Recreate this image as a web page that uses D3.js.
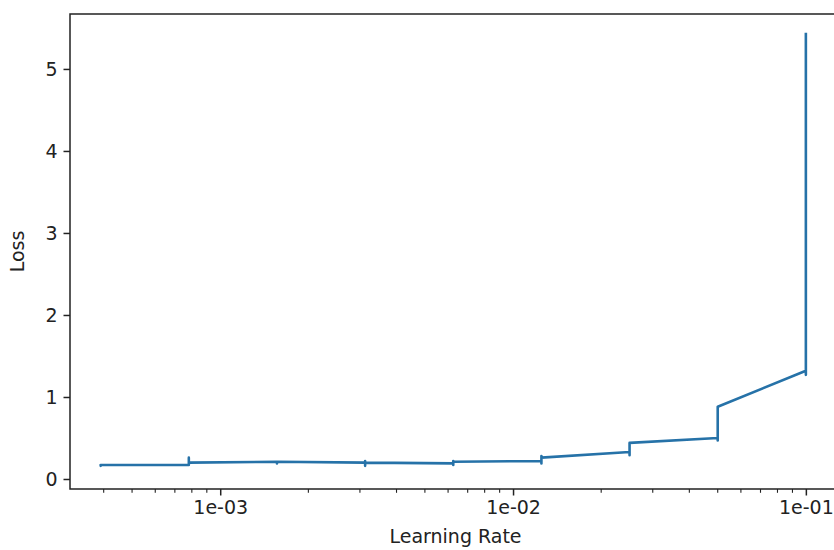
<!DOCTYPE html>
<html>
<head>
<meta charset="utf-8">
<script src="https://cdn.jsdelivr.net/npm/d3@7"></script>
<style>
  html, body { margin: 0; padding: 0; background: #fff; overflow: hidden; }
  svg { display: block; }
  text { font-family: "DejaVu Sans", sans-serif; fill: #222; }
</style>
</head>
<body>
<div id="chart_container"></div>
<script>
// learning rate used at each recorded iteration (stepwise schedule)
const lrSeries = [
  0.000390625, 0.000390625, 0.000390625,
  0.00078125, 0.00078125, 0.00078125, 0.00078125,
  0.0015625, 0.0015625, 0.0015625,
  0.003125, 0.003125, 0.003125, 0.003125,
  0.00625, 0.00625, 0.00625, 0.00625,
  0.0125, 0.0125, 0.0125, 0.0125,
  0.025, 0.025, 0.025, 0.025,
  0.05, 0.05, 0.05, 0.05,
  0.1, 0.1, 0.1, 0.1, 0.1, 0.1
];
// loss recorded at each iteration
const lossSeries = [
  0.18, 0.16, 0.17,
  0.17, 0.26, 0.19, 0.2,
  0.21, 0.19, 0.21,
  0.2, 0.16, 0.22, 0.2,
  0.19, 0.17, 0.22, 0.21,
  0.22, 0.19, 0.28, 0.26,
  0.33, 0.29, 0.44, 0.44,
  0.5, 0.47, 0.64, 0.88,
  1.32, 1.27, 1.7, 1.92, 2.53, 5.44
];
const xTickValues = [1e-3, 1e-2, 1e-1];
const xTickLabels = ["1e-03", "1e-02", "1e-01"];
const yTickValues = [0, 1, 2, 3, 4, 5];

let width = 834;
let height = 550;
let margin = { top: 14, right: -7, bottom: 61, left: 70 };

let svg = d3
  .select("#chart_container")
  .append("svg")
  .attr("width", width)
  .attr("height", height);

svg.append("rect").attr("width", width).attr("height", height).attr("fill", "#fff");

let x = d3
  .scaleLog()
  .domain([Math.pow(10, -3.513), Math.pow(10, -0.88)])
  .range([margin.left, width - margin.right]);

let y = d3
  .scaleLinear()
  .domain([-0.122, 5.67])
  .range([height - margin.bottom, margin.top]);

let points = lrSeries.map((lr, i) => [lr, lossSeries[i]]);

// loss curve
svg
  .append("path")
  .datum(points)
  .attr("fill", "none")
  .attr("stroke", "#2672a8")
  .attr("stroke-width", 2.6)
  .attr("stroke-linejoin", "round")
  .attr("d", d3.line().x((d) => x(d[0])).y((d) => y(d[1])));

// minor ticks on the log axis
let minorTicks = [];
for (let e = -4; e <= -1; e++) {
  for (let m = 2; m <= 9; m++) {
    let v = m * Math.pow(10, e);
    if (v > x.domain()[0] && v < x.domain()[1]) minorTicks.push(v);
  }
}

let xAxis = svg
  .append("g")
  .attr("transform", `translate(0,${height - margin.bottom})`)
  .call(
    d3.axisBottom(x)
      .tickValues(xTickValues)
      .tickFormat((d, i) => xTickLabels[i])
      .tickSizeInner(6.5)
      .tickSizeOuter(0)
      .tickPadding(5)
  );
xAxis.select(".domain").remove();
xAxis.selectAll("text").attr("font-size", "19px").attr("fill", "#222");
xAxis.selectAll("line").attr("stroke", "#222").attr("stroke-width", 1.5);

svg
  .append("g")
  .selectAll("line")
  .data(minorTicks)
  .join("line")
  .attr("x1", (d) => x(d))
  .attr("x2", (d) => x(d))
  .attr("y1", height - margin.bottom)
  .attr("y2", height - margin.bottom + 3.8)
  .attr("stroke", "#222")
  .attr("stroke-width", 1.1);

let yAxis = svg
  .append("g")
  .attr("transform", `translate(${margin.left},0)`)
  .call(
    d3.axisLeft(y)
      .tickValues(yTickValues)
      .tickFormat(d3.format("d"))
      .tickSizeInner(6.5)
      .tickSizeOuter(0)
      .tickPadding(6)
  );
yAxis.select(".domain").remove();
yAxis.selectAll("text").attr("font-size", "19px").attr("fill", "#222");
yAxis.selectAll("line").attr("stroke", "#222").attr("stroke-width", 1.5);

// spines (left, top, bottom; the right one falls past the picture edge)
let plotRight = width - margin.right;
let plotBottom = height - margin.bottom;
svg
  .append("path")
  .attr("d", `M${plotRight},${margin.top}H${margin.left}V${plotBottom}H${plotRight}`)
  .attr("fill", "none")
  .attr("stroke", "#222")
  .attr("stroke-width", 1.5);

svg
  .append("text")
  .text("Learning Rate")
  .attr("x", (margin.left + plotRight) / 2)
  .attr("y", 543)
  .attr("text-anchor", "middle")
  .attr("font-size", "19px");

svg
  .append("text")
  .text("Loss")
  .attr("transform", `translate(24,${(margin.top + plotBottom) / 2}) rotate(-90)`)
  .attr("text-anchor", "middle")
  .attr("font-size", "19px");
</script>
</body>
</html>
